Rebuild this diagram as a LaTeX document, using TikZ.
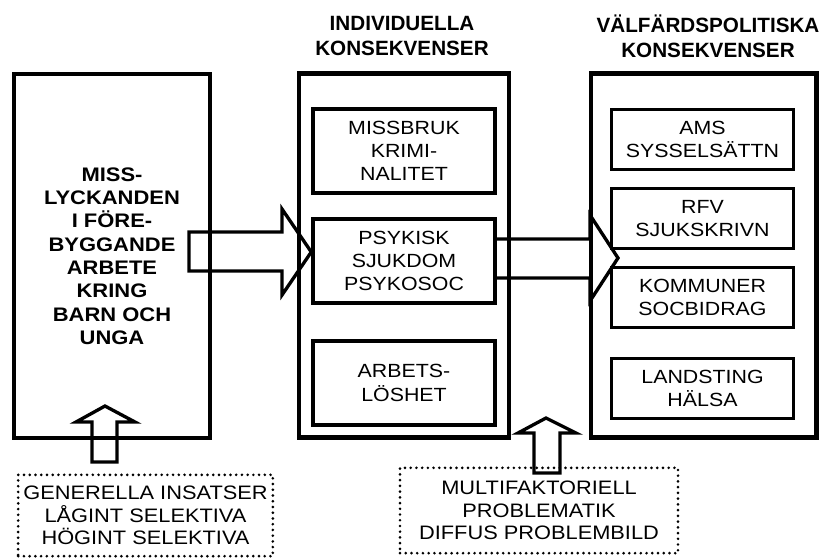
\documentclass[tikz,border=0pt]{standalone}
\usepackage{fontspec}
\setmainfont{Liberation Sans}[FakeStretch=1.12]
\newfontfamily\titlefont{Liberation Sans}
\begin{document}
\begin{tikzpicture}[x=0.75pt,y=-0.75pt,
  outerbox/.style={draw,line width=3.5pt,minimum width=#1,minimum height=273pt,inner sep=0pt,align=center},
  innerbox/.style={draw,line width=2.6pt,minimum width=136.5pt,inner sep=0pt,align=center,
    font=\fontsize{14.3pt}{17.5pt}\selectfont},
  dotbox/.style={draw,line width=2.2pt,dash pattern=on 0pt off 4.3pt,line cap=round,inner sep=0pt,align=center,
    font=\fontsize{14.6pt}{17pt}\selectfont},
  title/.style={align=center,inner sep=0pt,font=\titlefont\fontsize{15.5pt}{18.75pt}\selectfont\bfseries},
  blockarrow/.style={draw,line width=2.5pt,line join=miter}]
\useasboundingbox[fill=white] (0,0) rectangle (827,558);

% titles
\node[title] (t1) at (402,35.5) {INDIVIDUELLA\\KONSEKVENSER};
\node[title] (t2) at (708,36) {VÄLFÄRDSPOLITISKA\\KONSEKVENSER};

% outer boxes
\node[outerbox=147pt,font=\fontsize{14.7pt}{17.5pt}\selectfont\bfseries] (left) at (112,256)
  {MISS-\\LYCKANDEN\\I FÖRE-\\BYGGANDE\\ARBETE\\KRING\\BARN OCH\\UNGA};
\node[outerbox=157.5pt] (mid) at (404,255.5) {};
\node[outerbox=169pt] (right) at (703.5,255.5) {};

% inner boxes, middle
\node[innerbox,minimum height=63pt] (m1) at (404,151) {MISSBRUK\\KRIMI-\\NALITET};
\node[innerbox,minimum height=63pt] (m2) at (404,261) {PSYKISK\\SJUKDOM\\PSYKOSOC};
\node[innerbox,minimum height=63pt] (m3) at (404,383) {ARBETS-\\LÖSHET};

% inner boxes, right
\node[innerbox,minimum height=45pt] (r1) at (702.5,139.5) {AMS\\SYSSELSÄTTN};
\node[innerbox,minimum height=45pt] (r2) at (702.5,218.5) {RFV\\SJUKSKRIVN};
\node[innerbox,minimum height=45pt] (r3) at (702.5,297.5) {KOMMUNER\\SOCBIDRAG};
\node[innerbox,minimum height=45pt] (r4) at (702.5,388.5) {LANDSTING\\HÄLSA};

% dotted boxes
\node[dotbox,minimum width=191pt,minimum height=61pt] (d1) at (145.5,515.5)
  {GENERELLA INSATSER\\LÅGINT SELEKTIVA\\HÖGINT SELEKTIVA};
\node[dotbox,minimum width=208.5pt,minimum height=64pt] (d2) at (539,510.5)
  {MULTIFAKTORIELL\\PROBLEMATIK\\DIFFUS PROBLEMBILD};

% block arrows
\draw[blockarrow] (189,232) -- (282,232) -- (282,209) -- (m2.west |- 0,252) -- (282,295) -- (282,271) -- (189,271) -- cycle;
\draw[blockarrow] (m2.east |- 0,239) -- (590,239) -- (590,215) -- (618,258) -- (590,301) -- (590,278) -- (m2.east |- 0,278);
\draw[blockarrow] (92,462) -- (92,422) -- (76,422) -- (105,406) -- (135,422) -- (117,422) -- (117,462) -- cycle;
\draw[blockarrow] (534,473) -- (534,433) -- (518,433) -- (546,418) -- (576,433) -- (560,433) -- (560,473) -- cycle;
\end{tikzpicture}
\end{document}
